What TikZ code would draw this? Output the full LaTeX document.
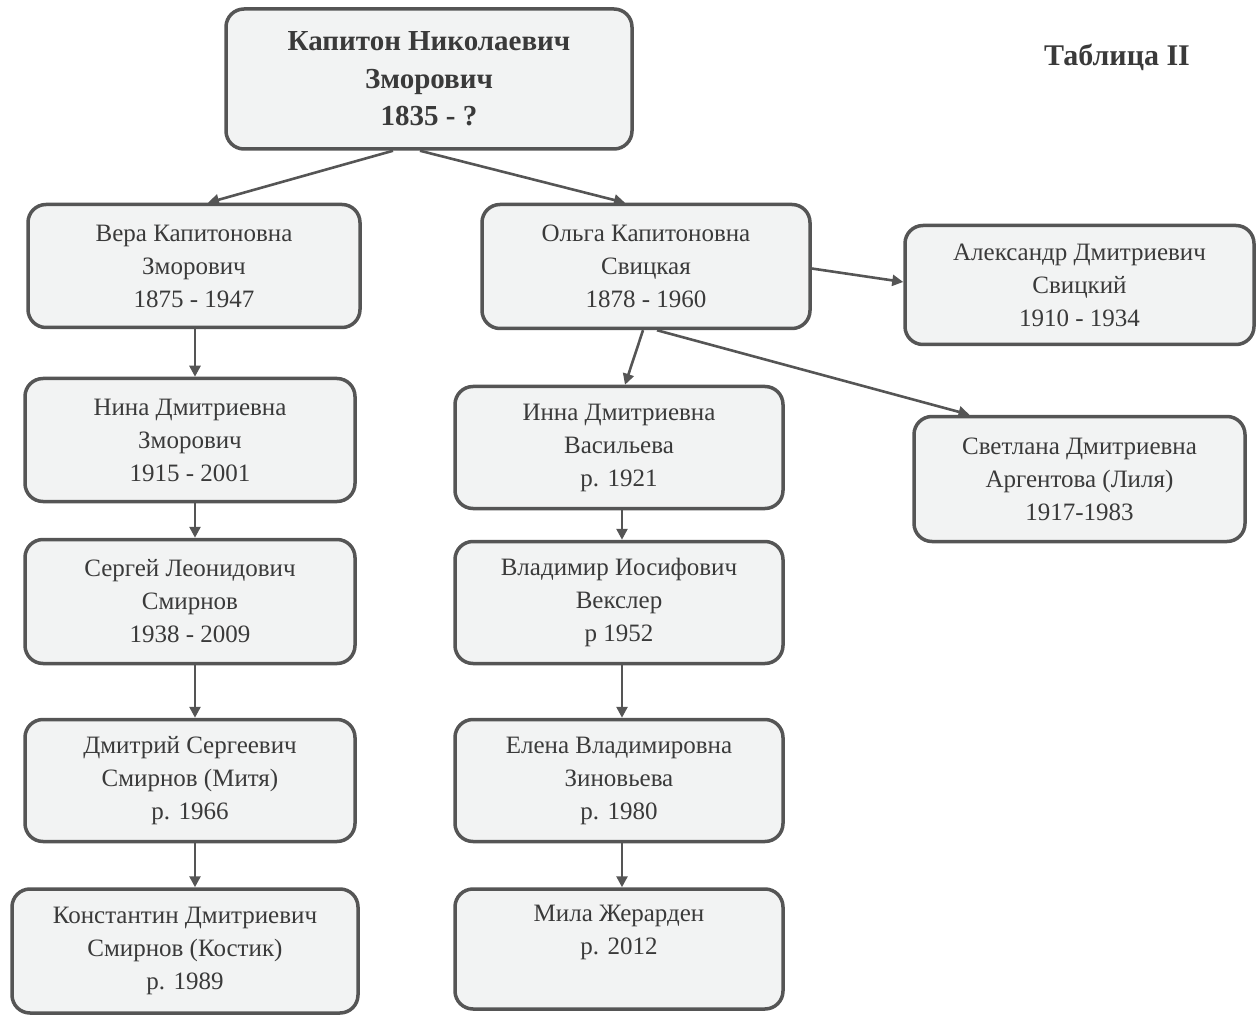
\documentclass[tikz,border=0pt]{standalone}
\usepackage{fontspec}
\setmainfont{Liberation Serif}
\usetikzlibrary{arrows.meta,calc}
\definecolor{boxfill}{HTML}{F2F3F3}
\definecolor{boxline}{HTML}{555555}
\definecolor{txt}{HTML}{3A3A3A}
\begin{document}
\begin{tikzpicture}[x=1pt,y=-1pt,
  person/.style={draw=boxline, fill=boxfill, line width=3.5pt, rounded corners=18pt,
    align=center, inner sep=0pt, text=txt,
    font=\fontsize{25}{33}\selectfont},
  root/.style={person, font=\fontsize{29}{37.5}\selectfont\bfseries},
  arr/.style={draw=boxline, line width=2.6pt, -{Triangle[length=11pt,width=11pt]}}
]
\useasboundingbox (0,0) rectangle (1259,1016);

\node[root, minimum width=406pt, minimum height=140pt] (top) at (429,79) {Капитон Николаевич\\Зморович\\1835 - ?};
\node[text=txt, font=\fontsize{30}{34}\selectfont\bfseries] (tab) at (1117,57) {Таблица II};

\node[person, minimum width=332pt, minimum height=123pt] (vera) at (194,266) {Вера Капитоновна\\Зморович\\1875 - 1947};
\node[person, minimum width=328pt, minimum height=124pt] (olga) at (646,266.5) {Ольга Капитоновна\\Свицкая\\1878 - 1960};
\node[person, minimum width=349pt, minimum height=119pt] (alex) at (1079.5,285) {Александр Дмитриевич\\Свицкий\\1910 - 1934};

\node[person, minimum width=330pt, minimum height=123pt] (nina) at (190,440) {Нина Дмитриевна\\Зморович\\1915 - 2001};
\node[person, minimum width=328pt, minimum height=122pt] (inna) at (619,447.5) {Инна Дмитриевна\\Васильева\\р. 1921};
\node[person, minimum width=331pt, minimum height=125pt] (svet) at (1079.5,479) {Светлана Дмитриевна\\Аргентова (Лиля)\\1917-1983};

\node[person, minimum width=330pt, minimum height=124pt] (serg) at (190,601.5) {Сергей Леонидович\\Смирнов\\1938 - 2009};
\node[person, minimum width=328pt, minimum height=122pt] (vlad) at (619,602.5) {Владимир Иосифович\\Векслер\\р 1952};

\node[person, minimum width=330pt, minimum height=122pt] (dmit) at (190,780.5) {Дмитрий Сергеевич\\Смирнов (Митя)\\р. 1966};
\node[person, minimum width=328pt, minimum height=122pt] (elena) at (619,780.5) {Елена Владимировна\\Зиновьева\\р. 1980};

\node[person, minimum width=346pt, minimum height=124pt] (kost) at (185,951) {Константин Дмитриевич\\Смирнов (Костик)\\р. 1989};
\node[person, minimum width=328pt, minimum height=120pt] (mila) at (619,949) {Мила Жерарден\\р. 2012\\\phantom{р}};

\draw[arr] ([xshift=-36pt]top.south) -- ([xshift=14pt]vera.north);
\draw[arr] ([xshift=-9pt]top.south) -- ([xshift=-21pt]olga.north);
\draw[arr] ([yshift=-2pt]olga.east) -- ([yshift=3pt]alex.west);
\draw[arr] ([xshift=-3pt]olga.south) -- ([xshift=6pt]inna.north);
\draw[arr] ([xshift=11pt]olga.south) -- ([xshift=-110pt]svet.north);

\draw[arr] ([xshift=1pt]vera.south) -- ([xshift=1pt]vera.south |- nina.north);
\draw[arr] ([xshift=5pt]nina.south) -- ([xshift=5pt]nina.south |- serg.north);
\draw[arr] ([xshift=5pt]serg.south) -- ([xshift=5pt]serg.south |- dmit.north);
\draw[arr] ([xshift=5pt]dmit.south) -- ([xshift=5pt]dmit.south |- kost.north);

\draw[arr] ([xshift=3pt]inna.south) -- ([xshift=3pt]inna.south |- vlad.north);
\draw[arr] ([xshift=3pt]vlad.south) -- ([xshift=3pt]vlad.south |- elena.north);
\draw[arr] ([xshift=3pt]elena.south) -- ([xshift=3pt]elena.south |- mila.north);
\end{tikzpicture}
\end{document}
